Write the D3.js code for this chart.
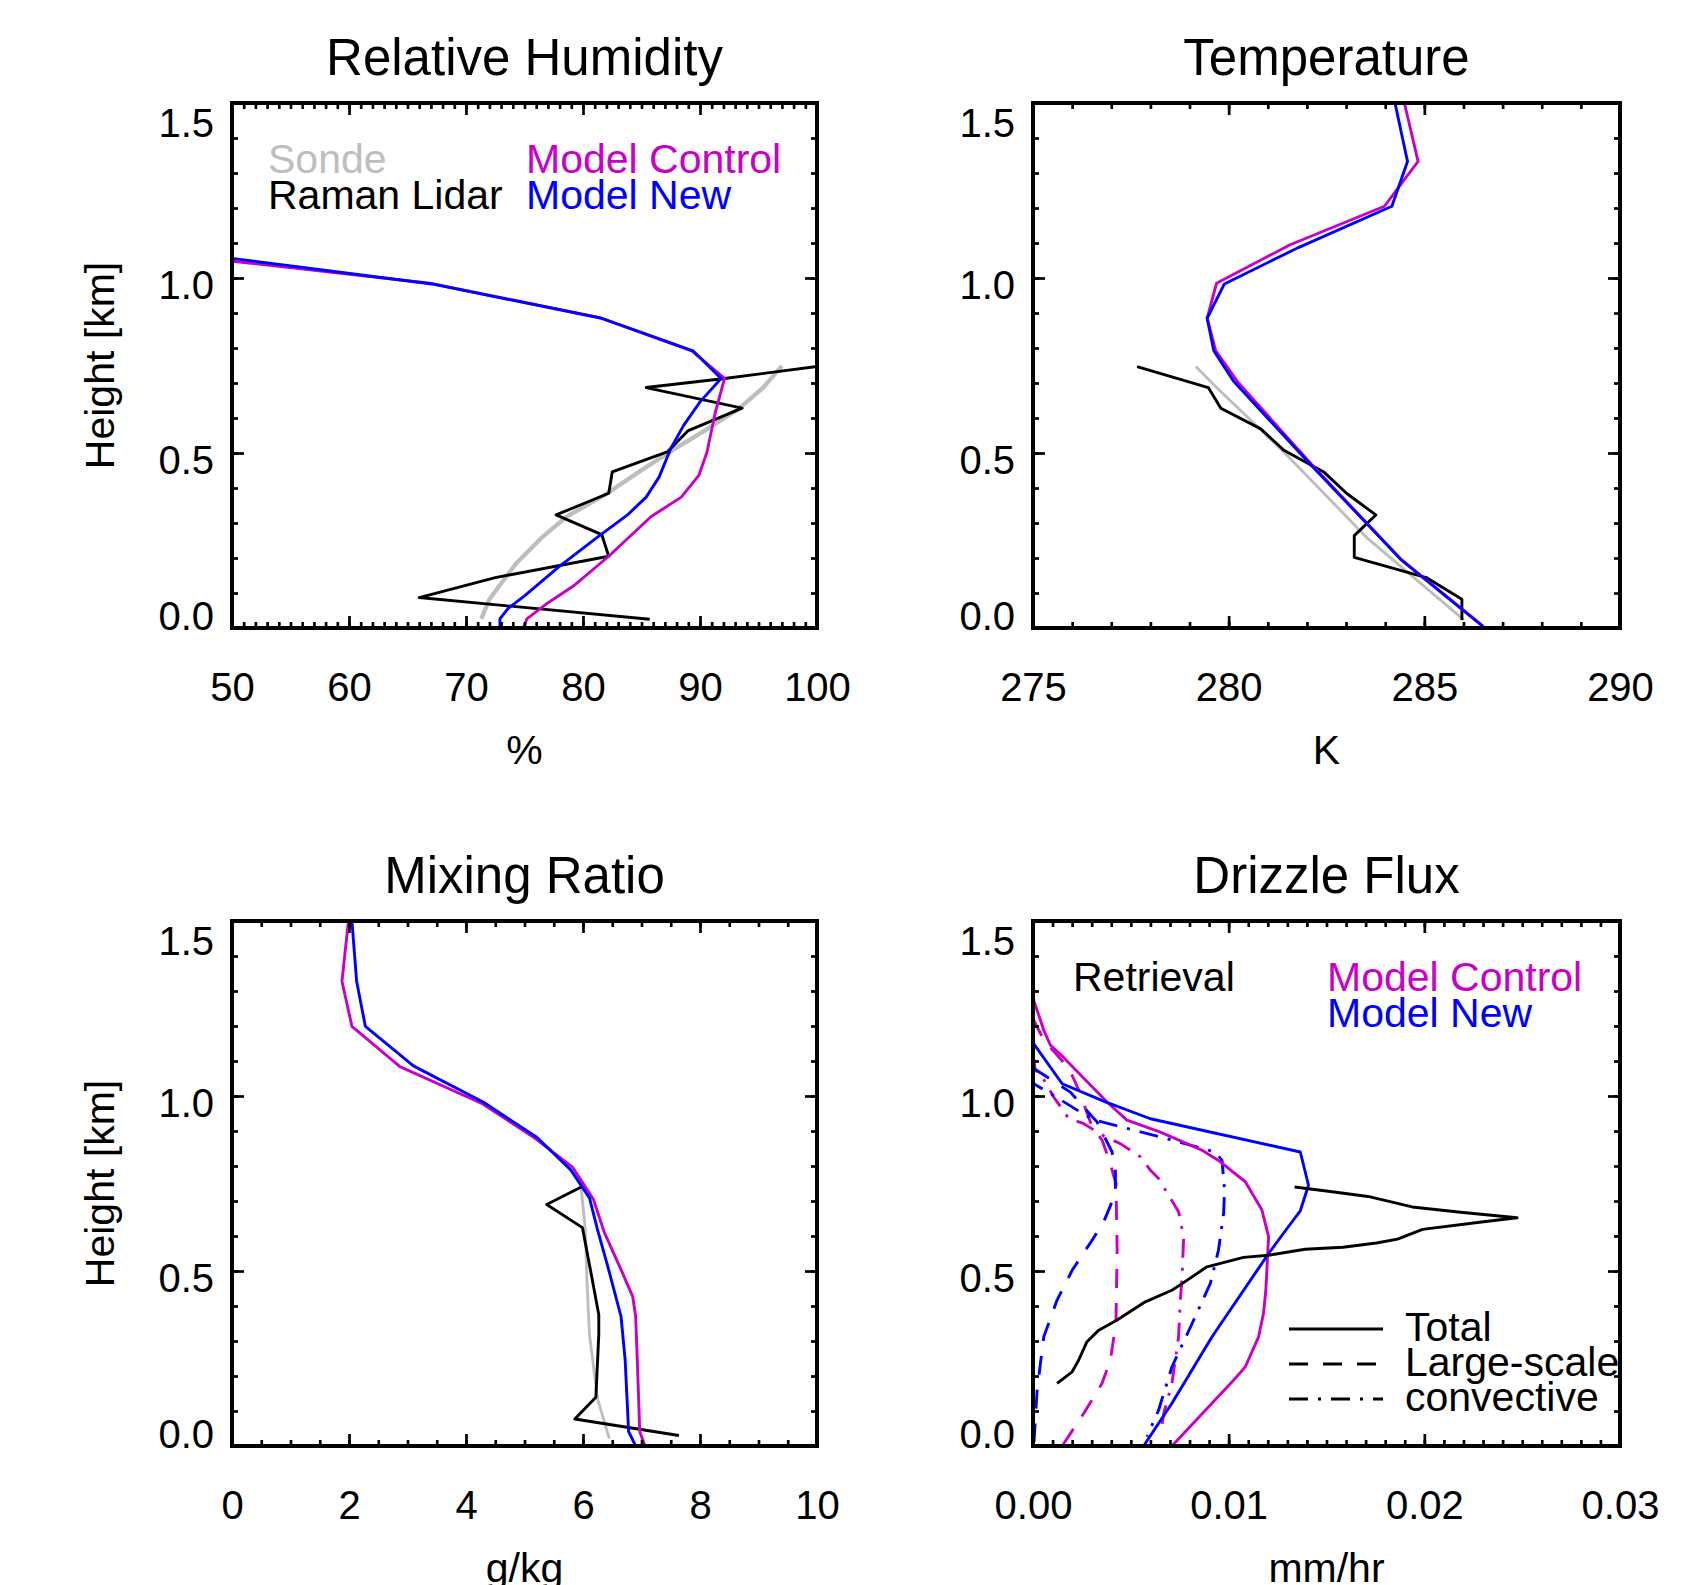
<!DOCTYPE html>
<html><head><meta charset="utf-8">
<script src="https://cdn.jsdelivr.net/npm/d3@7"></script>
<style>html,body{margin:0;padding:0;background:#fff}</style>
</head><body>
<script>
// ---------------- DATA ----------------
const heightTicks = [0, 0.5, 1.0, 1.5];
const rhTicks = [50, 60, 70, 80, 90, 100];
const tTicks = [275, 280, 285, 290];
const mrTicks = [0, 2, 4, 6, 8, 10];
const dfTicks = [0, 0.01, 0.02, 0.03];

// Relative humidity [%, km]
const rhSonde = [[97.0,0.749],[95.4,0.687],[93.3,0.626],[90.4,0.564],[87.9,0.513],[85.0,0.451],[81.8,0.379],[78.6,0.318],[76.4,0.256],[74.3,0.185],[72.9,0.123],[72.0,0.082],[71.3,0.026]];
const rhLidar = [[100,0.747],[92.1,0.713],[85.4,0.687],[93.6,0.628],[89.0,0.564],[87.2,0.503],[82.5,0.446],[82.2,0.385],[77.7,0.323],[81.6,0.267],[82.2,0.205],[72.5,0.144],[66.0,0.087],[85.7,0.025]];
const rhControl = [[50,1.048],[66.9,0.985],[81.4,0.887],[89.3,0.792],[92.1,0.713],[91.3,0.615],[90.6,0.503],[89.9,0.436],[88.4,0.374],[85.8,0.318],[82.2,0.205],[79.3,0.123],[76.8,0.067],[75.2,0.026],[74.9,0.0]];
const rhNew = [[50,1.056],[67.1,0.983],[81.6,0.885],[89.4,0.792],[91.8,0.713],[90.0,0.646],[88.6,0.579],[87.5,0.513],[86.5,0.431],[85.4,0.374],[83.8,0.323],[81.1,0.256],[77.9,0.174],[75.0,0.092],[73.6,0.056],[72.9,0.026],[72.9,0.0]];

// Temperature [K, km]
const tSonde = [[279.16,0.747],[279.69,0.687],[281.41,0.503],[283.55,0.256],[286.01,0.023]];
const tLidar = [[277.66,0.747],[279.48,0.687],[279.8,0.628],[280.82,0.569],[281.41,0.508],[282.43,0.446],[283.01,0.385],[283.76,0.323],[283.21,0.264],[283.21,0.202],[285.05,0.144],[285.96,0.082],[285.96,0.023]];
const tControl = [[284.49,1.5],[284.84,1.333],[283.98,1.205],[281.57,1.095],[279.69,0.985],[279.45,0.885],[279.67,0.792],[280.23,0.703],[282.16,0.462],[284.41,0.195],[286.5,0.005]];
const tNew = [[284.25,1.5],[284.57,1.333],[284.17,1.205],[281.78,1.087],[279.89,0.983],[279.45,0.885],[279.62,0.792],[280.12,0.706],[282.05,0.472],[284.41,0.195],[286.55,0.0]];

// Mixing ratio [g/kg, km]
const mrSonde = [[5.97,0.735],[6.04,0.617],[6.07,0.462],[6.11,0.319],[6.25,0.134],[6.45,0.021]];
const mrLidar = [[5.97,0.74],[5.38,0.69],[5.99,0.624],[6.15,0.483],[6.27,0.375],[6.27,0.319],[6.22,0.139],[5.86,0.077],[7.64,0.03]];
const mrControl = [[1.99,1.5],[1.88,1.328],[2.05,1.199],[2.87,1.084],[4.28,0.978],[5.18,0.879],[5.82,0.797],[6.18,0.704],[6.36,0.612],[6.65,0.504],[6.85,0.427],[6.90,0.37],[6.93,0.236],[6.97,0.041],[7.06,0.0]];
const mrNew = [[2.05,1.5],[2.13,1.328],[2.28,1.199],[3.10,1.086],[4.30,0.982],[5.21,0.882],[5.79,0.789],[6.11,0.709],[6.25,0.617],[6.43,0.509],[6.65,0.37],[6.72,0.247],[6.78,0.041],[6.90,0.0]];

// Drizzle flux [mm/hr, km]
const dfRetrieval = [[0.01337,0.74],[0.01519,0.727],[0.01712,0.713],[0.01938,0.683],[0.02185,0.668],[0.02474,0.652],[0.02292,0.64],[0.01991,0.619],[0.01863,0.591],[0.01755,0.58],[0.01584,0.568],[0.01391,0.562],[0.01204,0.545],[0.01076,0.539],[0.00889,0.512],[0.00762,0.464],[0.0071,0.445],[0.00574,0.412],[0.0043,0.36],[0.00336,0.331],[0.00276,0.298],[0.00233,0.245],[0.002,0.212],[0.00123,0.179]];
const dfControlTotal = [[0,1.32],[0.00004,1.273],[0.00055,1.188],[0.00089,1.145],[0.00155,1.111],[0.00378,0.983],[0.0048,0.931],[0.00651,0.897],[0.00864,0.845],[0.00948,0.816],[0.01085,0.755],[0.0117,0.674],[0.01204,0.598],[0.0119,0.445],[0.01178,0.379],[0.01153,0.312],[0.01085,0.226],[0.01025,0.188],[0.0071,0.0]];
const dfControlLS = [[0,1.22],[0.00056,1.159],[0.0015,1.10],[0.002,1.059],[0.00242,1.007],[0.00268,0.964],[0.00302,0.912],[0.00353,0.874],[0.00387,0.821],[0.00424,0.75],[0.0043,0.56],[0.00424,0.35],[0.00395,0.245],[0.00353,0.179],[0.00259,0.093],[0.00149,0.0]];
const dfControlConv = [[0,1.12],[0.00012,1.073],[0.00038,1.064],[0.00106,0.997],[0.00182,0.936],[0.00259,0.921],[0.0037,0.883],[0.00446,0.864],[0.00549,0.826],[0.006,0.788],[0.00642,0.764],[0.00744,0.669],[0.0077,0.598],[0.00762,0.483],[0.00753,0.417],[0.00744,0.312],[0.0071,0.179],[0.00668,0.093],[0.00655,0.04]];
const dfNewTotal = [[0,1.5],[0,1.2],[0.00004,1.149],[0.00149,1.035],[0.0037,0.983],[0.006,0.935],[0.01366,0.84],[0.01408,0.745],[0.01366,0.672],[0.01283,0.61],[0.01204,0.55],[0.00915,0.312],[0.0071,0.122],[0.00565,0.0]];
const dfNewLS = [[0,1.08],[0.00191,1.011],[0.00251,0.973],[0.00327,0.926],[0.00353,0.897],[0.00404,0.84],[0.00421,0.788],[0.00421,0.721],[0.00361,0.64],[0.00302,0.588],[0.002,0.502],[0.00123,0.417],[0.00055,0.312],[0.00021,0.16],[0.00004,0.0]];
const dfNewConv = [[0,1.06],[0.00004,1.035],[0.00089,1.007],[0.00268,0.945],[0.00319,0.931],[0.00651,0.883],[0.00931,0.84],[0.00966,0.816],[0.00979,0.731],[0.00974,0.664],[0.00948,0.56],[0.00906,0.464],[0.00813,0.35],[0.0071,0.226],[0.00642,0.103],[0.00583,0.027]];

// ---------------- STYLE ----------------
const FONT = "'Liberation Sans', Arial, Helvetica, sans-serif";
const GRAY = "#bebebe", MAG = "#c800c8", BLUE = "#0000ff", BLACK = "#000000";
const DASH = "19,15", DASHDOT = "19,10,3,10";
const LW = 2.9;
const W = 1708, H = 1585;
// vertical shift of the y tick labels relative to their tick (px), as in the original layout
const yLabelShift = new Map([[0, -13], [0.5, 6], [1.0, 6], [1.5, 19]]);

const svg = d3.select("body").append("svg")
  .attr("width", W).attr("height", H)
  .style("font-family", FONT);

function drawPanel(cfg, idx) {
  const g = svg.append("g");
  const x = d3.scaleLinear().domain(cfg.xDomain).range([cfg.x0, cfg.x1]);
  const y = d3.scaleLinear().domain([0, 1.5]).range([cfg.y1, cfg.y0]);

  const clipId = "clip" + idx;
  svg.append("clipPath").attr("id", clipId).append("rect")
    .attr("x", cfg.x0).attr("y", cfg.y0).attr("width", cfg.x1 - cfg.x0).attr("height", cfg.y1 - cfg.y0);

  // data lines
  const line = d3.line().x(d => x(d[0])).y(d => y(d[1]));
  const lg = g.append("g").attr("clip-path", `url(#${clipId})`);
  cfg.series.forEach(s => {
    lg.append("path").datum(s.data)
      .attr("d", line)
      .attr("fill", "none")
      .attr("stroke", s.color)
      .attr("stroke-width", s.width || LW)
      .attr("stroke-dasharray", s.dash || null)
      .attr("stroke-linejoin", "round");
  });

  // ticks (inward) on all four sides
  const xMinor = d3.ticks(cfg.xDomain[0], cfg.xDomain[1], cfg.minorN);
  const yMinor = d3.ticks(0, 1.5, 15);
  const tickStyle = sel => {
    sel.select(".domain").remove();
    sel.selectAll("line").attr("stroke", "#000").attr("stroke-width", 2.7);
    sel.selectAll("text").remove();
  };
  const MAJ = 12, MIN = 6;
  g.append("g").attr("transform", `translate(0,${cfg.y1})`)
    .call(d3.axisBottom(x).tickValues(xMinor).tickSize(-MIN)).call(tickStyle);
  g.append("g").attr("transform", `translate(0,${cfg.y1})`)
    .call(d3.axisBottom(x).tickValues(cfg.xTicks).tickSize(-MAJ)).call(tickStyle);
  g.append("g").attr("transform", `translate(0,${cfg.y0})`)
    .call(d3.axisTop(x).tickValues(xMinor).tickSize(-MIN)).call(tickStyle);
  g.append("g").attr("transform", `translate(0,${cfg.y0})`)
    .call(d3.axisTop(x).tickValues(cfg.xTicks).tickSize(-MAJ)).call(tickStyle);
  g.append("g").attr("transform", `translate(${cfg.x0},0)`)
    .call(d3.axisLeft(y).tickValues(yMinor).tickSize(-MIN)).call(tickStyle);
  g.append("g").attr("transform", `translate(${cfg.x0},0)`)
    .call(d3.axisLeft(y).tickValues(heightTicks).tickSize(-MAJ)).call(tickStyle);
  g.append("g").attr("transform", `translate(${cfg.x1},0)`)
    .call(d3.axisRight(y).tickValues(yMinor).tickSize(-MIN)).call(tickStyle);
  g.append("g").attr("transform", `translate(${cfg.x1},0)`)
    .call(d3.axisRight(y).tickValues(heightTicks).tickSize(-MAJ)).call(tickStyle);

  // frame
  g.append("rect").attr("x", cfg.x0).attr("y", cfg.y0)
    .attr("width", cfg.x1 - cfg.x0).attr("height", cfg.y1 - cfg.y0)
    .attr("fill", "none").attr("stroke", "#000").attr("stroke-width", 4);

  // tick labels
  const xl = g.append("g").attr("transform", `translate(0,${cfg.y1})`)
    .call(d3.axisBottom(x).tickValues(cfg.xTicks).tickSize(0).tickFormat(cfg.fmt));
  xl.select(".domain").remove();
  xl.selectAll("text").attr("y", 73).attr("dy", null)
    .attr("font-size", 40).attr("font-family", FONT).attr("fill", "#000");

  const yl = g.append("g").attr("transform", `translate(${cfg.x0},0)`)
    .call(d3.axisLeft(y).tickValues(heightTicks).tickSize(0).tickPadding(18).tickFormat(d3.format(".1f")));
  yl.select(".domain").remove();
  yl.selectAll("text")
    .attr("y", d => yLabelShift.get(d))
    .attr("dy", "0.36em")
    .attr("font-size", 40).attr("font-family", FONT).attr("fill", "#000");

  const cx = (cfg.x0 + cfg.x1) / 2;
  // title
  g.append("text").attr("x", cx).attr("y", cfg.y0 - 28)
    .attr("text-anchor", "middle").attr("font-size", 51).text(cfg.title);
  // x axis label
  g.append("text").attr("x", cx).attr("y", cfg.y1 + 136)
    .attr("text-anchor", "middle").attr("font-size", 41).text(cfg.xlabel);
  // y axis label
  if (cfg.ylabel) {
    const cy = (cfg.y0 + cfg.y1) / 2;
    g.append("text").attr("transform", `translate(${cfg.x0 - 132},${cy}) rotate(-90)`)
      .attr("text-anchor", "middle").attr("dy", "0.35em").attr("font-size", 41).text(cfg.ylabel);
  }
  // legend texts
  (cfg.legend || []).forEach(l => {
    g.append("text").attr("x", cfg.x0 + l.dx).attr("y", cfg.y0 + l.dy)
      .attr("font-size", 41).attr("fill", l.color).text(l.text);
  });
  // legend line samples
  (cfg.lineLegend || []).forEach(l => {
    g.append("line").attr("x1", cfg.x0 + 256).attr("x2", cfg.x0 + 350)
      .attr("y1", cfg.y0 + l.dy - 12).attr("y2", cfg.y0 + l.dy - 12)
      .attr("stroke", "#000").attr("stroke-width", LW).attr("stroke-dasharray", l.dash);
    g.append("text").attr("x", cfg.x0 + 372).attr("y", cfg.y0 + l.dy)
      .attr("font-size", 41).attr("fill", "#000").text(l.text);
  });
}

const L = 232, R = 817, L2 = 1033, R2 = 1620;
const T1 = 103, B1 = 628, T2 = 921, B2 = 1446;

drawPanel({
  x0: L, x1: R, y0: T1, y1: B1, xDomain: [50, 100], xTicks: rhTicks, minorN: 50,
  fmt: d3.format("d"), title: "Relative Humidity", xlabel: "%", ylabel: "Height [km]",
  series: [
    {data: rhSonde, color: GRAY, width: 4.3},
    {data: rhLidar, color: BLACK},
    {data: rhControl, color: MAG},
    {data: rhNew, color: BLUE}
  ],
  legend: [
    {text: "Sonde", color: GRAY, dx: 36, dy: 70},
    {text: "Raman Lidar", color: BLACK, dx: 36, dy: 106},
    {text: "Model Control", color: MAG, dx: 294, dy: 70},
    {text: "Model New", color: BLUE, dx: 294, dy: 106}
  ]
}, 0);

drawPanel({
  x0: L2, x1: R2, y0: T1, y1: B1, xDomain: [275, 290], xTicks: tTicks, minorN: 15,
  fmt: d3.format("d"), title: "Temperature", xlabel: "K", ylabel: null,
  series: [
    {data: tSonde, color: GRAY},
    {data: tLidar, color: BLACK},
    {data: tControl, color: MAG},
    {data: tNew, color: BLUE}
  ]
}, 1);

drawPanel({
  x0: L, x1: R, y0: T2, y1: B2, xDomain: [0, 10], xTicks: mrTicks, minorN: 20,
  fmt: d3.format("d"), title: "Mixing Ratio", xlabel: "g/kg", ylabel: "Height [km]",
  series: [
    {data: mrSonde, color: GRAY},
    {data: mrLidar, color: BLACK},
    {data: mrControl, color: MAG},
    {data: mrNew, color: BLUE}
  ]
}, 2);

drawPanel({
  x0: L2, x1: R2, y0: T2, y1: B2, xDomain: [0, 0.03], xTicks: dfTicks, minorN: 30,
  fmt: d3.format(".2f"), title: "Drizzle Flux", xlabel: "mm/hr", ylabel: null,
  series: [
    {data: dfControlLS, color: MAG, dash: DASH},
    {data: dfControlConv, color: MAG, dash: DASHDOT},
    {data: dfNewLS, color: BLUE, dash: DASH},
    {data: dfNewConv, color: BLUE, dash: DASHDOT},
    {data: dfControlTotal, color: MAG},
    {data: dfNewTotal, color: BLUE},
    {data: dfRetrieval, color: BLACK}
  ],
  legend: [
    {text: "Retrieval", color: BLACK, dx: 40, dy: 70},
    {text: "Model Control", color: MAG, dx: 294, dy: 70},
    {text: "Model New", color: BLUE, dx: 294, dy: 106}
  ],
  lineLegend: [
    {text: "Total", dash: null, dy: 420},
    {text: "Large-scale", dash: DASH, dy: 455},
    {text: "convective", dash: DASHDOT, dy: 490}
  ]
}, 3);
</script>
</body></html>
